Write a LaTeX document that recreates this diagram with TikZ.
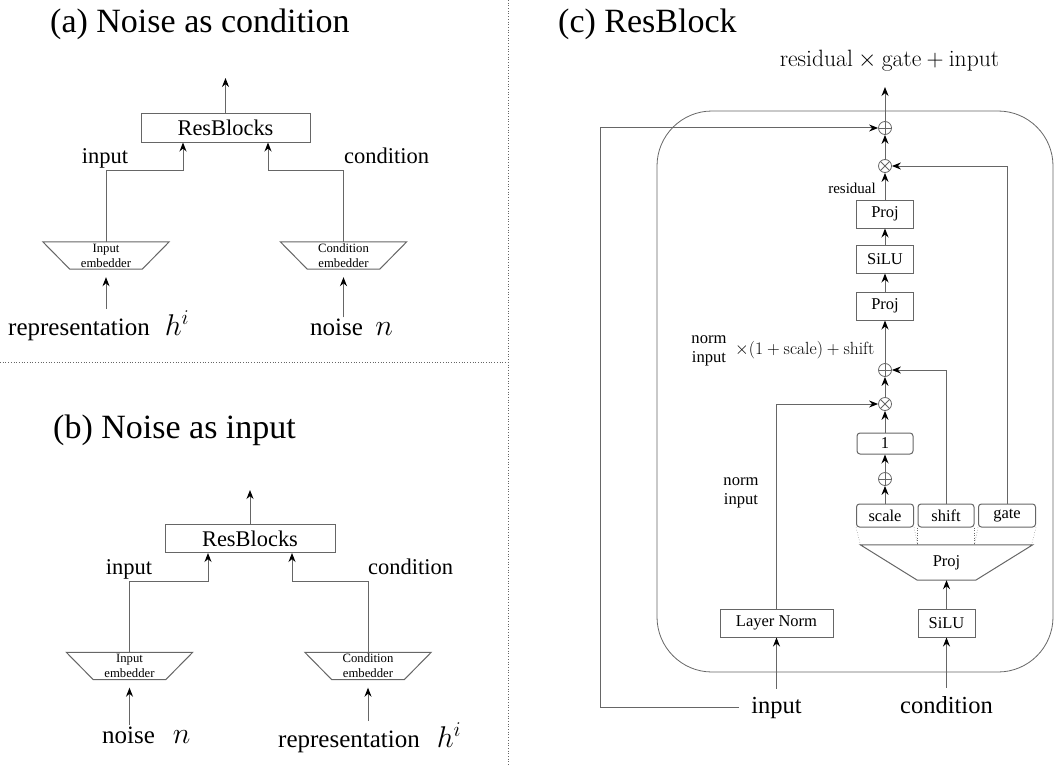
\RequirePackage{fix-cm}
\documentclass[tikz,border=0pt]{standalone}
\usepackage{amsmath}
\usepackage{fontspec}
\newfontfamily\tms{Liberation Serif}
\usetikzlibrary{positioning,arrows.meta}

\newcommand{\srcmath}[1]{{\fontsize{30}{30}\selectfont$#1$}}

\tikzset{
  wire/.style={draw=black!60, line width=1pt},
  arr/.style={wire, -{Stealth[black, length=9pt, width=7pt]}},
  sep/.style={draw=black!60, dotted, line width=0.7pt},
  resbox/.style={wire, minimum width=169pt, minimum height=28pt, inner sep=0pt, font=\tms\fontsize{22.4}{27}\selectfont},
  embed/.style={minimum width=72pt, minimum height=27pt, inner sep=0pt, align=center, font=\tms\fontsize{12.7}{15}\selectfont},
  ttl/.style={anchor=base west, inner sep=0pt, font=\tms\fontsize{34}{40}\selectfont},
  tag/.style={anchor=base, inner sep=0pt, font=\tms\fontsize{22.5}{27}\selectfont},
  src/.style={anchor=base west, inner xsep=0pt, inner ysep=1pt, font=\tms\fontsize{25}{30}\selectfont},
  op/.style={circle, draw=black!60, line width=0.8pt, minimum size=13pt, inner sep=0pt},
  oplus/.style={op, path picture={\draw[black!60, line width=0.8pt]
      (path picture bounding box.north) -- (path picture bounding box.south)
      (path picture bounding box.west) -- (path picture bounding box.east);}},
  otimes/.style={op, path picture={\draw[black!60, line width=0.8pt]
      (path picture bounding box.north west) -- (path picture bounding box.south east)
      (path picture bounding box.north east) -- (path picture bounding box.south west);}},
  layer/.style={wire, minimum width=57pt, minimum height=28pt, inner sep=0pt, font=\tms\fontsize{16.5}{20}\selectfont},
  chunk/.style={layer, rounded corners=3pt, minimum height=23pt},
  note/.style={inner sep=0pt, align=center, font=\tms\fontsize{16.6}{19}\selectfont},
}

\begin{document}
\begin{tikzpicture}[x=1pt, y=-1pt, on grid]
  \useasboundingbox (0,0) rectangle (1054,765);

  % separators
  \draw[sep] (0,362) -- (508,362);
  \draw[sep] (508,0) -- (508,765);

  % (a) noise as condition
  \node[ttl] (ttlA) at (50,33) {(a) Noise as condition};
  \node[resbox] (resA) at (225.5,128) {ResBlocks};
  \node[embed] (inembA) at (106,255.5) {Input\\embedder};
  \node[embed] (condembA) at (343.5,255.5) {Condition\\embedder};
  \coordinate (outA) at (225.5,78);
  \coordinate (kneeA) at (0,170);
  \node[tag] (inA) at (105,163) {input};
  \node[tag, anchor=base west] (cdA) at (344,163) {condition};
  \node[src] (repA) at (8,335) {representation\hspace{0.6em}\srcmath{h^i}};
  \node[src] (noiseA) at (310,335) {noise\hspace{0.5em}\srcmath{n}};
  \draw[arr] (resA) -- (outA);
  \draw[arr] (inembA.north) -- (inembA.north |- kneeA) -| ([xshift=-42.5pt]resA.south);
  \draw[arr] (condembA.north) -- (condembA.north |- kneeA) -| ([xshift=42.5pt]resA.south);
  \draw[arr, shorten >=8pt] (repA.north -| inembA) -- (inembA.south);
  \draw[arr, shorten >=8pt] (noiseA.north -| condembA) -- (condembA.south);

  % (b) noise as input
  \node[ttl] (ttlB) at (53,438) {(b) Noise as input};
  \node[resbox, minimum width=170pt] (resB) at (250,538.5) {ResBlocks};
  \node[embed] (inembB) at (129.5,666) {Input\\embedder};
  \node[embed] (condembB) at (368,666) {Condition\\embedder};
  \coordinate (outB) at (250,490);
  \coordinate (kneeB) at (0,581);
  \node[tag] (inB) at (129,574) {input};
  \node[tag, anchor=base west] (cdB) at (368,574) {condition};
  \node[src] (noiseB) at (102,743) {noise\hspace{0.72em}\srcmath{n}};
  \node[src] (repB) at (278,747) {representation\hspace{0.68em}\srcmath{h^i}};
  \draw[arr] (resB) -- (outB);
  \draw[arr] (inembB.north) -- (inembB.north |- kneeB) -| ([xshift=-42pt]resB.south);
  \draw[arr] (condembB.north) -- (condembB.north |- kneeB) -| ([xshift=42pt]resB.south);
  \draw[arr, shorten >=8pt] (noiseB.north -| inembB) -- (inembB.south);
  \draw[arr, shorten >=8pt] (repB.north -| condembB) -- (condembB.south);

  \foreach \e in {inembA,condembA,inembB,condembB}
    \draw[wire] (\e.south west) -- (\e.south east) -- ([xshift=27pt]\e.north east)
      -- ([xshift=-27pt]\e.north west) -- cycle;

  % (c) ResBlock
  \node[ttl] (ttlC) at (558,33) {(c) ResBlock};
  \node[draw=black!60, line width=0.8pt, rounded corners=55pt, minimum width=396pt, minimum height=561pt] (body) at (855,391.5) {};

  \node[oplus] (addT) at (885,128) {};
  \node[otimes] (mulG) [below=38pt of addT] {};
  \node[layer] (proj2) [below=48pt of mulG] {Proj};
  \node[layer] (silu2) [below=45pt of proj2] {SiLU};
  \node[layer] (proj1) [below=47pt of silu2] {Proj};
  \node[oplus] (addM) [below=64pt of proj1] {};
  \node[otimes] (mulM) [below=34pt of addM] {};
  \node[chunk, minimum width=56pt, minimum height=21pt] (one) [below=39.5pt of mulM] {1};
  \node[oplus] (addL) [below=35.5pt of one] {};
  \node[chunk] (scaleC) [below=36.5pt of addL] {scale};
  \node[chunk, minimum width=56pt] (shiftC) [right=61pt of scaleC] {shift};
  \node[chunk] (gateC) [right=61pt of shiftC] {gate};

  \node[layer] (siluB) at (946.5,623) {SiLU};
  \node[layer, minimum width=113pt] (lnB) [left=170pt of siluB] {Layer Norm};
  \node[embed, minimum width=58pt, minimum height=35pt, font=\tms\fontsize{16.5}{20}\selectfont] (projT) [above=60.5pt of siluB] {Proj};
  \draw[wire] (projT.south west) -- (projT.south east) -- ([xshift=57pt]projT.north east)
    -- ([xshift=-57pt]projT.north west) -- cycle;
  \foreach \c/\a/\b in {scaleC/-86/-29, shiftC/-29/28, gateC/28/85} {
    \draw[sep, line width=0.5pt] (\c.south west) -- ([xshift=\a pt]projT.north);
    \draw[sep, line width=0.5pt] (\c.south east) -- ([xshift=\b pt]projT.north);
  }

  \node[anchor=base, inner xsep=12pt, inner ysep=8pt, font=\tms\fontsize{24.5}{29}\selectfont] (inC) at (776.5,713) {input};
  \node[anchor=base, inner ysep=8pt, font=\tms\fontsize{24.5}{29}\selectfont] (condC) at (946.5,713) {condition};
  \node[anchor=base, inner sep=0pt, font=\fontsize{23.6}{28}\selectfont] (outLbl) at (889.5,67) {$\text{residual}\times\text{gate}+\text{input}$};
  \coordinate (outC) at (885,87);
  \coordinate (loopx) at (600,0);

  \node[note, anchor=base east, font=\tms\fontsize{15}{18}\selectfont] (resid) at (876,193) {residual};
  \node[note] (normU) at (709,350.5) {norm\\input};
  \node[anchor=base west, inner sep=0pt, font=\fontsize{17.6}{20}\selectfont] (affine) at (735,354) {$\times(1+\text{scale})+\text{shift}$};
  \node[note] (normL) at (741,492.5) {norm\\input};

  \path[arr]
  (scaleC) edge (addL)
  (addL) edge (one)
  (one) edge (mulM)
  (mulM) edge (addM)
  (addM) edge (proj1)
  (proj1) edge (silu2)
  (silu2) edge (proj2)
  (proj2) edge (mulG)
  (mulG) edge (addT)
  (addT) edge (outC)
  (siluB) edge (projT)
  (condC) edge (siluB)
  (inC) edge (lnB)
  ;
  \draw[arr] (shiftC) |- (addM);
  \draw[arr] (gateC) |- (mulG);
  \draw[arr] (lnB) |- (mulM);
  \draw[arr] (inC.west) -- (inC.west -| loopx) |- (addT.west);
\end{tikzpicture}
\end{document}
